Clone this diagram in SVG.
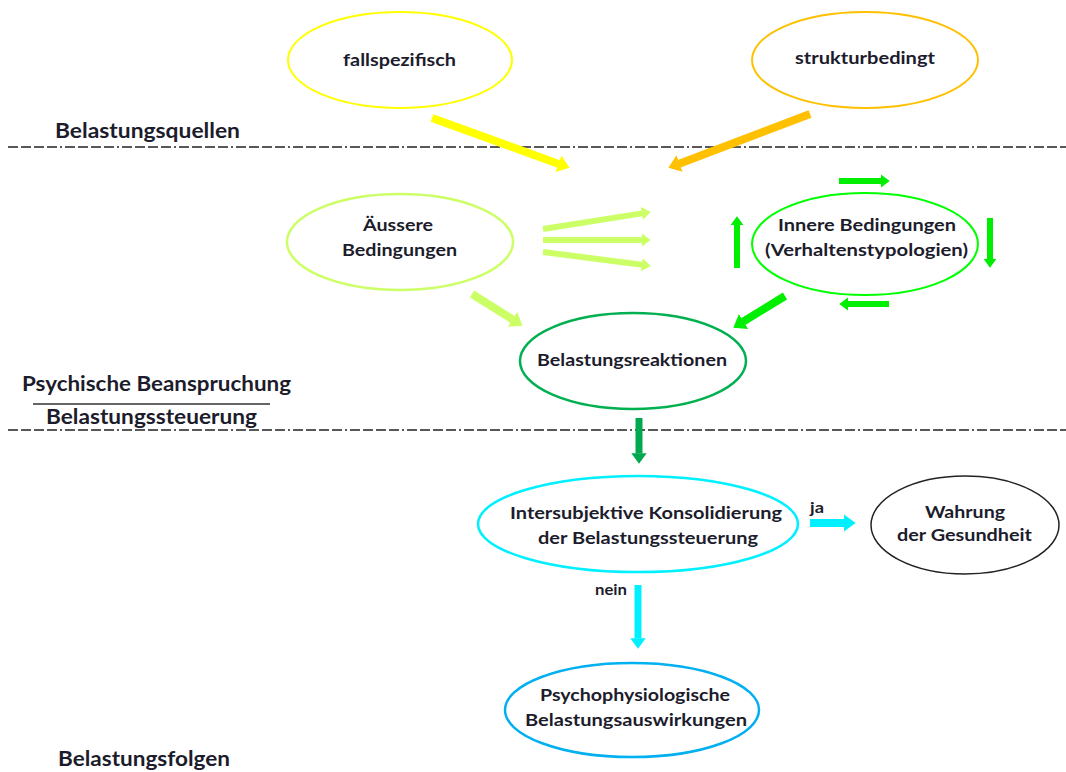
<svg xmlns="http://www.w3.org/2000/svg" width="1066" height="772" viewBox="0 0 1066 772">
<style>
.t{font-family:Lato,"Open Sans","Liberation Sans",sans-serif;font-weight:700;fill:#1c1c2c;text-anchor:middle;font-size:17px}
.lab{font-family:Lato,"Open Sans","Liberation Sans",sans-serif;font-weight:700;fill:#1c1c2c;font-size:21px}
.sm{font-size:15px}
.node{fill:#fff}
.sep{stroke:#222;stroke-width:1.6;stroke-dasharray:10 3 10 3 10 3 10 3 2 3;fill:none}
.ar{fill:none;stroke-linecap:butt}
</style>
<defs>
<marker id="hY" viewBox="0 0 15 22" refX="0.5" refY="11" markerWidth="1.5" markerHeight="2.2" orient="auto" markerUnits="strokeWidth"><path d="M0,0 L15,11 L0,22 z" fill="#FFFF00"/></marker>
<marker id="hO" viewBox="0 0 15 22" refX="0.5" refY="11" markerWidth="1.5" markerHeight="2.2" orient="auto" markerUnits="strokeWidth"><path d="M0,0 L15,11 L0,22 z" fill="#FFC000"/></marker>
<marker id="hL" viewBox="0 0 15 22" refX="0.5" refY="11" markerWidth="1.5" markerHeight="2.2" orient="auto" markerUnits="strokeWidth"><path d="M0,0 L15,11 L0,22 z" fill="#CCFF66"/></marker>
<marker id="hG" viewBox="0 0 15 22" refX="0.5" refY="11" markerWidth="1.5" markerHeight="2.2" orient="auto" markerUnits="strokeWidth"><path d="M0,0 L15,11 L0,22 z" fill="#00EE00"/></marker>
<marker id="hD" viewBox="0 0 15 22" refX="0.5" refY="11" markerWidth="1.5" markerHeight="2.2" orient="auto" markerUnits="strokeWidth"><path d="M0,0 L15,11 L0,22 z" fill="#00A850"/></marker>
<marker id="hC" viewBox="0 0 15 22" refX="0.5" refY="11" markerWidth="1.5" markerHeight="2.2" orient="auto" markerUnits="strokeWidth"><path d="M0,0 L15,11 L0,22 z" fill="#00F0FF"/></marker>
</defs>
<rect width="1066" height="772" fill="#fff"/>

<g id="separators">
<line class="sep" x1="8" y1="147" x2="1066" y2="147"/>
<line class="sep" x1="8" y1="430" x2="1066" y2="430"/>
<line x1="33" y1="404" x2="270" y2="404" stroke="#333" stroke-width="1.6"/>
</g>

<g id="section-labels">
<text class="lab" x="55" y="138" textLength="185" lengthAdjust="spacingAndGlyphs">Belastungsquellen</text>
<text class="lab" x="22" y="391" textLength="269" lengthAdjust="spacingAndGlyphs">Psychische Beanspruchung</text>
<text class="lab" x="46" y="424" textLength="211" lengthAdjust="spacingAndGlyphs">Belastungssteuerung</text>
<text class="lab" x="58" y="766" textLength="172" lengthAdjust="spacingAndGlyphs">Belastungsfolgen</text>
</g>

<g id="connectors">
<line class="ar" x1="432" y1="118" x2="558.7" y2="163.9" stroke="#FFFF00" stroke-width="8" marker-end="url(#hY)"/>
<line class="ar" x1="810" y1="114" x2="679.2" y2="163.7" stroke="#FFC000" stroke-width="8" marker-end="url(#hO)"/>
<line class="ar" x1="543" y1="229" x2="642.1" y2="213.4" stroke="#CCFF66" stroke-width="6" marker-end="url(#hL)"/>
<line class="ar" x1="543" y1="240" x2="642" y2="240" stroke="#CCFF66" stroke-width="6" marker-end="url(#hL)"/>
<line class="ar" x1="543" y1="252" x2="642.1" y2="264.8" stroke="#CCFF66" stroke-width="6" marker-end="url(#hL)"/>
<line class="ar" x1="472" y1="294" x2="512.8" y2="319.6" stroke="#CCFF66" stroke-width="8" marker-end="url(#hL)"/>
<line class="ar" x1="785" y1="296" x2="743.2" y2="321.7" stroke="#00EE00" stroke-width="8" marker-end="url(#hG)"/>
<line class="ar" x1="839" y1="181" x2="881" y2="181" stroke="#00EE00" stroke-width="6" marker-end="url(#hG)"/>
<line class="ar" x1="990" y1="218" x2="990" y2="259" stroke="#00EE00" stroke-width="6" marker-end="url(#hG)"/>
<line class="ar" x1="889" y1="304" x2="848" y2="304" stroke="#00EE00" stroke-width="6" marker-end="url(#hG)"/>
<line class="ar" x1="737" y1="268" x2="737" y2="225" stroke="#00EE00" stroke-width="6" marker-end="url(#hG)"/>
<line class="ar" x1="639" y1="418" x2="639" y2="453.5" stroke="#00A850" stroke-width="7" marker-end="url(#hD)"/>
<line class="ar" x1="810" y1="523" x2="844" y2="523" stroke="#00F0FF" stroke-width="8" marker-end="url(#hC)"/>
<line class="ar" x1="638" y1="585" x2="638" y2="638.5" stroke="#00F0FF" stroke-width="7" marker-end="url(#hC)"/>
<text class="t sm" x="817" y="513" textLength="14" lengthAdjust="spacingAndGlyphs">ja</text>
<text class="t sm" x="611" y="595" textLength="32" lengthAdjust="spacingAndGlyphs">nein</text>
</g>

<g id="fallspezifisch">
<ellipse class="node" cx="400" cy="60" rx="112" ry="48" stroke="#FFFF00" stroke-width="2"/>
<text class="t" x="399.5" y="66" textLength="113" lengthAdjust="spacingAndGlyphs">fallspezifisch</text>
</g>
<g id="strukturbedingt">
<ellipse class="node" cx="865" cy="60" rx="113" ry="48" stroke="#FFC000" stroke-width="2"/>
<text class="t" x="865" y="64" textLength="140" lengthAdjust="spacingAndGlyphs">strukturbedingt</text>
</g>
<g id="aeussere">
<ellipse class="node" cx="400" cy="242" rx="113" ry="48" stroke="#CCFF66" stroke-width="2.5"/>
<text class="t" x="398" y="231" textLength="70" lengthAdjust="spacingAndGlyphs">Äussere</text>
<text class="t" x="399.5" y="256" textLength="115" lengthAdjust="spacingAndGlyphs">Bedingungen</text>
</g>
<g id="innere">
<ellipse class="node" cx="865" cy="244" rx="113" ry="51" stroke="#00FF00" stroke-width="2"/>
<text class="t" x="867" y="231" textLength="178" lengthAdjust="spacingAndGlyphs">Innere Bedingungen</text>
<text class="t" x="866.5" y="256" textLength="203" lengthAdjust="spacingAndGlyphs">(Verhaltenstypologien)</text>
</g>
<g id="reaktionen">
<ellipse class="node" cx="633" cy="361" rx="113" ry="48" stroke="#00B050" stroke-width="2.5"/>
<text class="t" x="632" y="366" textLength="190" lengthAdjust="spacingAndGlyphs">Belastungsreaktionen</text>
</g>
<g id="intersubjektive">
<ellipse class="node" cx="638" cy="524" rx="160" ry="48" stroke="#00F0FF" stroke-width="2.5"/>
<text class="t" x="646" y="519" textLength="272" lengthAdjust="spacingAndGlyphs">Intersubjektive Konsolidierung</text>
<text class="t" x="648" y="544" textLength="220" lengthAdjust="spacingAndGlyphs">der Belastungssteuerung</text>
</g>
<g id="wahrung">
<ellipse class="node" cx="965" cy="525" rx="94" ry="49" stroke="#222" stroke-width="1.5"/>
<text class="t" x="965" y="518" textLength="80" lengthAdjust="spacingAndGlyphs">Wahrung</text>
<text class="t" x="964.5" y="541" textLength="135" lengthAdjust="spacingAndGlyphs">der Gesundheit</text>
</g>
<g id="psychophysiologische">
<ellipse class="node" cx="632" cy="710" rx="127" ry="47" stroke="#00B0F0" stroke-width="2.5"/>
<text class="t" x="635" y="701" textLength="190" lengthAdjust="spacingAndGlyphs">Psychophysiologische</text>
<text class="t" x="636" y="726" textLength="222" lengthAdjust="spacingAndGlyphs">Belastungsauswirkungen</text>
</g>
</svg>
